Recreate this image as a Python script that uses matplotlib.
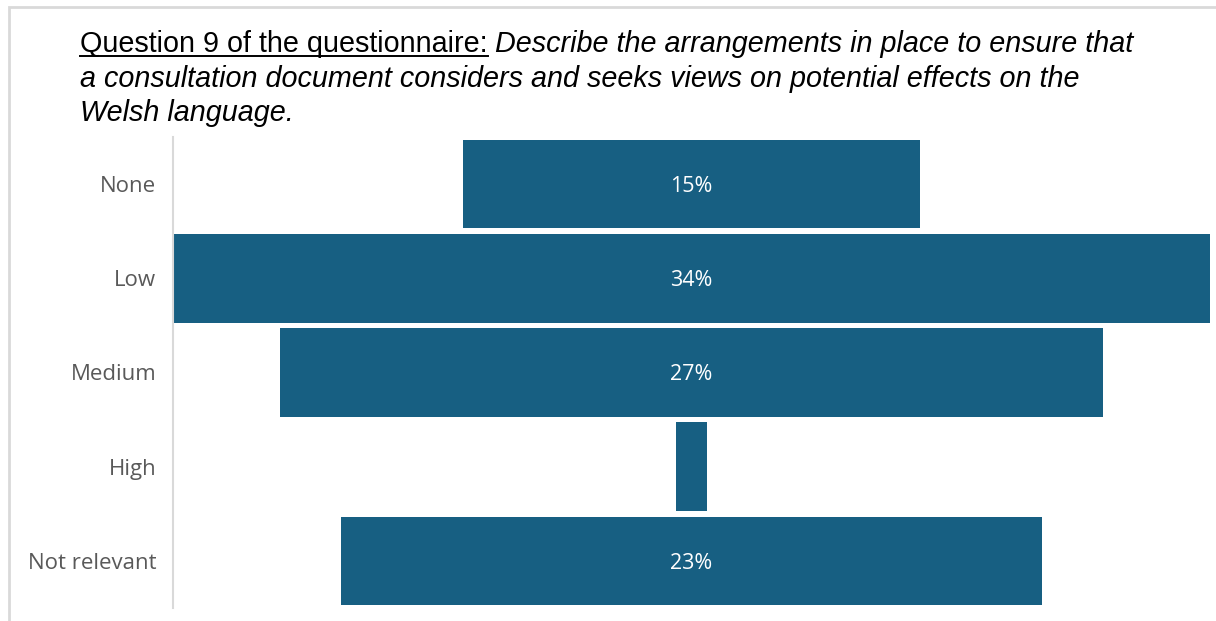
import matplotlib.pyplot as plt
from matplotlib.patches import Rectangle
from matplotlib.lines import Line2D

categories = ['None', 'Low', 'Medium', 'High', 'Not relevant']
values = [15, 34, 27, 1, 23]
labels = ['15%', '34%', '27%', '', '23%']

bar_color = '#175f82'
W, H = 1216, 621

fig = plt.figure(figsize=(W / 100, H / 100), dpi=100)

# light frame around the chart area
fig.patches.append(Rectangle((9 / W, -0.1), 1.2, 1.1 - 7 / H, transform=fig.transFigure,
                             fill=False, edgecolor='#d9d9d9', linewidth=2))

ax = fig.add_axes([173 / W, 1 - 608 / H, (1210 - 173) / W, (608 - 137) / H])
pos = list(range(len(categories)))
lefts = [-v / 2 for v in values]
ax.barh(pos, values, left=lefts, height=0.94, color=bar_color)
for p, lab in zip(pos, labels):
    if lab:
        ax.text(0, p, lab, ha='center', va='center_baseline', color='white',
                fontsize=15.5, family=['Open Sans', 'DejaVu Sans'])

ax.set_xlim(-17, 17)
ax.set_ylim(4.5, -0.5)
ax.set_yticks(pos)
ax.set_yticklabels(categories, fontsize=16, color='#595959', family=['Open Sans', 'DejaVu Sans'],
                   va='center_baseline')
ax.tick_params(axis='y', length=0, pad=12)
ax.set_xticks([])
for s in ['top', 'right', 'bottom']:
    ax.spines[s].set_visible(False)
ax.spines['left'].set_color('#d9d9d9')
ax.spines['left'].set_linewidth(1.5)

# title: underlined lead-in, italic question text
tfont = ['Liberation Sans', 'DejaVu Sans']
tsize = 20.7
x0 = 80 / W
y1 = 1 - 52 / H
t1 = fig.text(x0, y1, 'Question 9 of the questionnaire:', fontsize=tsize, family=tfont,
              va='baseline', ha='left')
fig.canvas.draw()
bb = t1.get_window_extent()
x1 = bb.x1 / W
fig.add_artist(Line2D([x0, x1], [y1 - 4 / H, y1 - 4 / H], transform=fig.transFigure,
                      color='black', linewidth=1.4))
fig.text(x1 + 7 / W, y1, 'Describe the arrangements in place to ensure that', fontsize=tsize,
         family=tfont, style='italic', va='baseline', ha='left')
fig.text(x0, 1 - 87 / H, 'a consultation document considers and seeks views on potential effects on the',
         fontsize=tsize, family=tfont, style='italic', va='baseline', ha='left')
fig.text(x0, 1 - 121 / H, 'Welsh language.', fontsize=tsize, family=tfont, style='italic',
         va='baseline', ha='left')

fig.savefig('out.png', dpi=100)
